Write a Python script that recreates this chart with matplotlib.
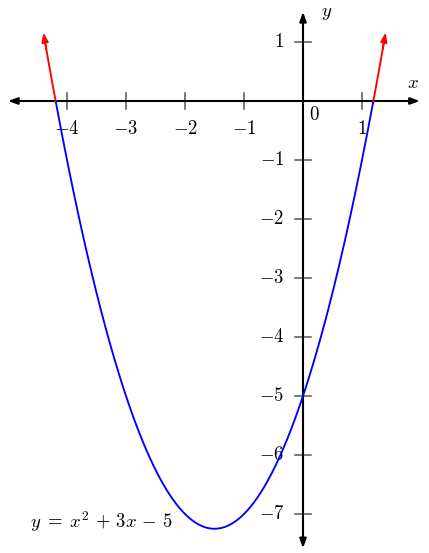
import numpy as np
import matplotlib
matplotlib.use("Agg")
import matplotlib.pyplot as plt
from matplotlib.patches import FancyArrowPatch

plt.rcParams['mathtext.fontset'] = 'cm'
plt.rcParams['font.family'] = ['DejaVu Serif']

# data
coeffs = [1, 3, -5]          # y = x^2 + 3x - 5
x_domain = [-4.4, 1.4]
x_ticks = [-4, -3, -2, -1, 1]
y_ticks = [1, -1, -2, -3, -4, -5, -6, -7]
formula = r"$y\;=\;x^2\,+\,3x\,-\,5$"

W, H = 429, 553
fig = plt.figure(figsize=(W / 100, H / 100), dpi=100)
ax = fig.add_axes([0, 0, 1, 1])
ax.axis('off')
s = 59.0
ox, oy = 303, 101
ax.set_xlim(-ox / s, (W - ox) / s)
ax.set_ylim((oy - H) / s, oy / s)

fs = 13.5

# axes
arrow_kw = dict(arrowstyle='<|-|>,head_length=0.55,head_width=0.2', color='black', lw=1.5,
                shrinkA=0, shrinkB=0, mutation_scale=10)
ax.add_patch(FancyArrowPatch((-5.0, 0), (1.98, 0), **arrow_kw, zorder=3))
ax.add_patch(FancyArrowPatch((0, -7.58), (0, 1.51), **arrow_kw, zorder=3))

# ticks
tl = 0.135
for t in x_ticks:
    ax.plot([t, t], [-tl, tl], color='#555555', lw=1.1, zorder=2)
    ax.text(t, -0.48, rf"${t}$", ha='center', va='center', fontsize=fs)
for t in y_ticks:
    ax.plot([-tl, tl], [t, t], color='#555555', lw=1.1, zorder=2)
    ax.text(-0.32, t, rf"${t}$", ha='right', va='center', fontsize=fs)
ax.text(0.2, -0.24, r"$0$", ha='center', va='center', fontsize=fs)
ax.text(0.4, 1.5, r"$y$", ha='center', va='center', fontsize=fs)
ax.text(1.86, 0.3, r"$x$", ha='center', va='center', fontsize=fs)

# curve
disc = np.sqrt(coeffs[1] ** 2 - 4 * coeffs[0] * coeffs[2])
r1 = (-coeffs[1] - disc) / (2 * coeffs[0])
r2 = (-coeffs[1] + disc) / (2 * coeffs[0])
xb = np.linspace(r1, r2, 400)
ax.plot(xb, np.polyval(coeffs, xb), color='blue', lw=1.35, zorder=4)

for a, b in [(r1, x_domain[0]), (r2, x_domain[1])]:
    xr = np.linspace(a, b, 30)
    yr = np.polyval(coeffs, xr)
    ax.plot(xr[:-3], yr[:-3], color='red', lw=1.35, zorder=4)
    ax.add_patch(FancyArrowPatch((xr[-8], yr[-8]), (xr[-1], yr[-1]),
                                 arrowstyle='-|>,head_length=0.55,head_width=0.2',
                                 color='red', lw=1.3, shrinkA=0, shrinkB=0,
                                 mutation_scale=10, zorder=4))

ax.text(-4.63, -7.13, formula, ha='left', va='center', fontsize=fs)

fig.savefig('out.png', dpi=100)
